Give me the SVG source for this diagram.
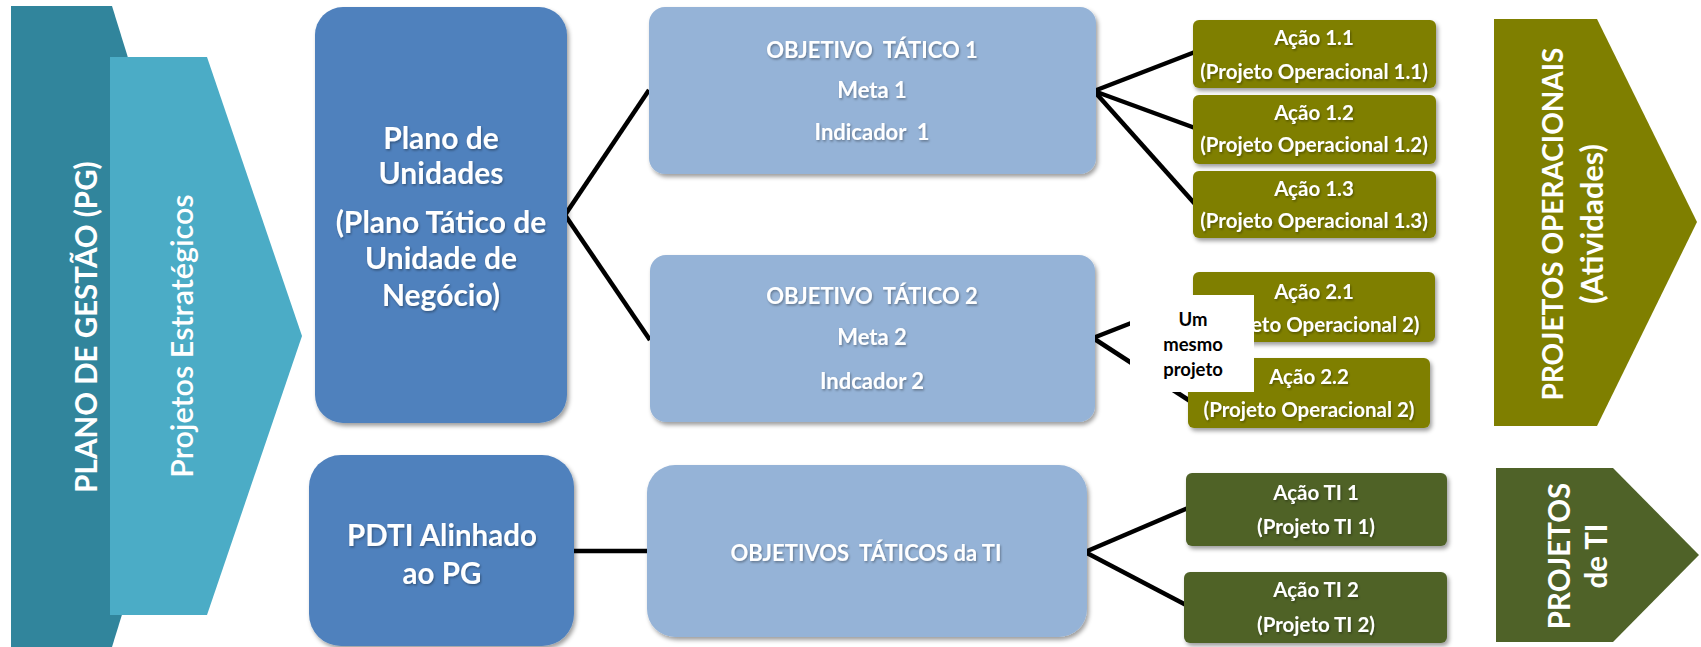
<svg xmlns="http://www.w3.org/2000/svg" width="1701" height="647" viewBox="0 0 1701 647">
<defs>
<filter id="sh" x="-10%" y="-10%" width="130%" height="130%">
<feDropShadow dx="2" dy="3" stdDeviation="2.2" flood-color="#000" flood-opacity="0.38"/>
</filter>
<filter id="tsh" x="-5%" y="-20%" width="110%" height="150%">
<feDropShadow dx="1" dy="1.5" stdDeviation="1" flood-color="#000" flood-opacity="0.35"/>
</filter>
</defs>
<style>
text{font-family:Lato,"Liberation Sans",sans-serif;font-weight:bold;fill:#fff;text-anchor:middle}
.big{font-size:30px}
.pdti{font-size:29.5px}
.obj{font-size:22px}
.act{font-size:20.5px}
.vert{font-size:29.5px}
.vop{font-size:28px}
.vat{font-size:30.5px}
.reg{font-weight:600;font-size:30.5px}
.note{fill:#000;font-size:18.5px}
.conn line{stroke:#000;stroke-width:4.5;stroke-linecap:butt}
.ts{filter:url(#tsh)}
</style>
<rect width="1701" height="647" fill="#fff"/>

<g id="plano-gestao">
<polygon points="11,6 112,6 211,326 112,647 11,647" fill="#31859C"/>
<text class="vert" transform="rotate(-90 97 327)" x="97" y="327">PLANO DE GESTÃO (PG)</text>
</g>
<g id="projetos-estrategicos">
<polygon points="110,57 207,57 302,336 207,615 110,615" fill="#4BACC6"/>
<text class="reg" transform="rotate(-90 193 336)" x="193" y="336">Projetos Estratégicos</text>
</g>

<g class="conn" id="connectors">
<line x1="565" y1="215" x2="649" y2="90"/>
<line x1="565" y1="215" x2="650" y2="340"/>
<line x1="572" y1="551" x2="649" y2="551"/>
<line x1="1094" y1="91" x2="1195" y2="52"/>
<line x1="1094" y1="91" x2="1195" y2="128"/>
<line x1="1094" y1="91" x2="1195" y2="204"/>
<line x1="1093" y1="338" x2="1195" y2="298"/>
<line x1="1093" y1="338" x2="1190" y2="401"/>
<line x1="1085" y1="552" x2="1188" y2="508"/>
<line x1="1085" y1="552" x2="1188" y2="606"/>
</g>

<g id="plano-unidades">
<rect x="315" y="7" width="252" height="416" rx="28" fill="#4F81BD" filter="url(#sh)"/>
<g class="ts">
<text class="big" x="441" y="149">Plano de</text>
<text class="big" x="441" y="184">Unidades</text>
<text class="big" x="441" y="233">(Plano Tático de</text>
<text class="big" x="441" y="269">Unidade de</text>
<text class="big" x="441" y="306">Negócio)</text>
</g>
</g>

<g id="pdti">
<rect x="309" y="455" width="265" height="191" rx="32" fill="#4F81BD" filter="url(#sh)"/>
<g class="ts">
<text class="pdti" x="442" y="546">PDTI Alinhado</text>
<text class="pdti" x="442" y="584">ao PG</text>
</g>
</g>

<g id="objetivo1">
<rect x="649" y="7" width="447" height="167" rx="16" fill="#95B3D7" filter="url(#sh)"/>
<g class="ts">
<text class="obj" x="872" y="58" xml:space="preserve">OBJETIVO  TÁTICO 1</text>
<text class="obj" x="872" y="98">Meta 1</text>
<text class="obj" x="872" y="140" xml:space="preserve">Indicador  1</text>
</g>
</g>

<g id="objetivo2">
<rect x="650" y="255" width="445" height="167" rx="16" fill="#95B3D7" filter="url(#sh)"/>
<g class="ts">
<text class="obj" x="872" y="304" xml:space="preserve">OBJETIVO  TÁTICO 2</text>
<text class="obj" x="872" y="345">Meta 2</text>
<text class="obj" x="872" y="389">Indcador 2</text>
</g>
</g>

<g id="objetivos-ti">
<rect x="647" y="465" width="440" height="172" rx="28" fill="#95B3D7" filter="url(#sh)"/>
<text class="obj ts" x="866" y="561" xml:space="preserve">OBJETIVOS  TÁTICOS da TI</text>
</g>

<g id="acao11">
<rect x="1193" y="20" width="243" height="68" rx="6" fill="#7F7F00" filter="url(#sh)"/>
<text class="act ts" x="1314" y="45">Ação 1.1</text>
<text class="act ts" x="1314" y="79">(Projeto Operacional 1.1)</text>
</g>
<g id="acao12">
<rect x="1193" y="95" width="243" height="69" rx="6" fill="#7F7F00" filter="url(#sh)"/>
<text class="act ts" x="1314" y="120">Ação 1.2</text>
<text class="act ts" x="1314" y="152">(Projeto Operacional 1.2)</text>
</g>
<g id="acao13">
<rect x="1193" y="171" width="243" height="67" rx="6" fill="#7F7F00" filter="url(#sh)"/>
<text class="act ts" x="1314" y="196">Ação 1.3</text>
<text class="act ts" x="1314" y="228">(Projeto Operacional 1.3)</text>
</g>
<g id="acao21">
<rect x="1193" y="272" width="242" height="70" rx="6" fill="#7F7F00" filter="url(#sh)"/>
<text class="act ts" x="1314" y="299">Ação 2.1</text>
<text class="act ts" x="1314" y="332">(Projeto Operacional 2)</text>
</g>
<g id="acao22">
<rect x="1188" y="358" width="242" height="70" rx="6" fill="#7F7F00" filter="url(#sh)"/>
<text class="act ts" x="1309" y="384">Ação 2.2</text>
<text class="act ts" x="1309" y="417">(Projeto Operacional 2)</text>
</g>

<g id="um-mesmo-projeto">
<rect x="1130" y="295" width="124" height="97" fill="#fff"/>
<text class="note" x="1193" y="326">Um</text>
<text class="note" x="1193" y="351">mesmo</text>
<text class="note" x="1193" y="376">projeto</text>
</g>

<g id="acao-ti1">
<rect x="1186" y="473" width="261" height="73" rx="6" fill="#4F6228" filter="url(#sh)"/>
<text class="act ts" x="1316" y="500">Ação TI 1</text>
<text class="act ts" x="1316" y="534">(Projeto TI 1)</text>
</g>
<g id="acao-ti2">
<rect x="1184" y="572" width="263" height="71" rx="6" fill="#4F6228" filter="url(#sh)"/>
<text class="act ts" x="1316" y="597">Ação TI 2</text>
<text class="act ts" x="1316" y="632">(Projeto TI 2)</text>
</g>

<g id="projetos-operacionais">
<polygon points="1494,19 1597,19 1697,222 1597,426 1494,426" fill="#7F7F00"/>
<text class="vop" transform="rotate(-90 1563 224)" x="1563" y="224">PROJETOS OPERACIONAIS</text>
<text class="vat" transform="rotate(-90 1603 224)" x="1603" y="224">(Atividades)</text>
</g>

<g id="projetos-ti">
<polygon points="1496,468 1613,468 1699,555 1613,642 1496,642" fill="#4F6228"/>
<text class="vert" transform="rotate(-90 1570 556)" x="1570" y="556">PROJETOS</text>
<text class="vert" transform="rotate(-90 1607 556)" x="1607" y="556">de TI</text>
</g>
</svg>
